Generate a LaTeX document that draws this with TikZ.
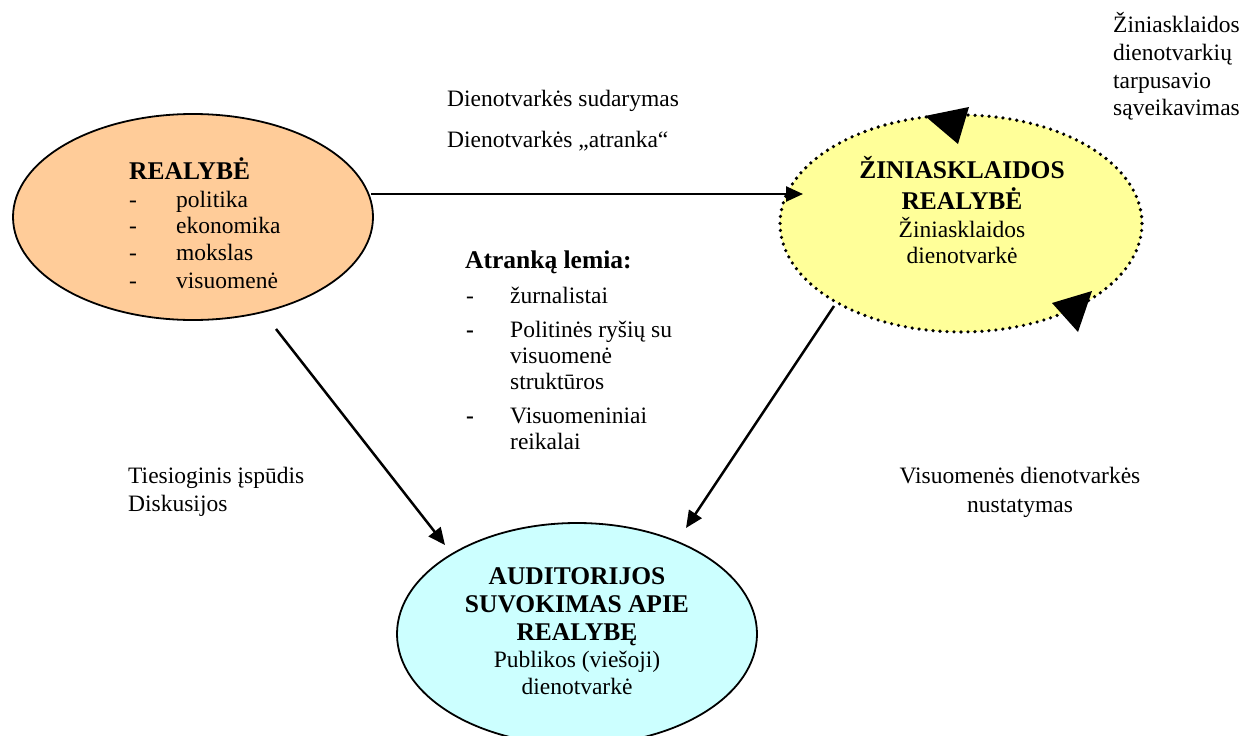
\documentclass[tikz,border=0pt]{standalone}
\usepackage{fontspec}
\setmainfont{Liberation Serif}
\usetikzlibrary{shapes.geometric,arrows.meta}
\definecolor{orangefill}{HTML}{FFCC99}
\definecolor{yellowfill}{HTML}{FFFF99}
\definecolor{cyanfill}{HTML}{CCFFFF}
\tikzset{
  oval/.style={ellipse, draw=black, line width=1.8pt, inner sep=0pt},
  txt/.style={inner sep=0pt, font=\fontsize{23.5}{27}\selectfont},
  btxt/.style={inner sep=0pt, font=\fontsize{25.5}{28}\selectfont\bfseries},
  arr/.style={line width=2.5pt, -{Triangle[length=17pt,width=15pt]}},
  dotline/.style={line width=3.6pt, line cap=round, dash pattern=on 0pt off 7pt},
}
\begin{document}
\begin{tikzpicture}[x=1pt,y=-1pt]
\useasboundingbox (0,0) rectangle (1245,736);

% ellipses
\node[oval, fill=orangefill, minimum width=360pt, minimum height=206pt] (real) at (193,217) {};
\node[ellipse, fill=yellowfill, minimum width=362pt, minimum height=217pt, inner sep=0pt] (media) at (961,223.5) {};
\draw[dotline] (media.center) ellipse [x radius=181, y radius=108.5];
\node[oval, fill=cyanfill, minimum width=360pt, minimum height=222pt] (aud) at (577,634) {};

% big arrowheads on the dotted ellipse
\fill[black] (925,116) -- (969,107) -- (958,144) -- cycle;
\fill[black] (1052,303) -- (1092,291) -- (1078,332) -- cycle;

% text in REALYBE
\node[btxt, anchor=base west] (r0) at (129,179) {REALYBĖ};
\node[txt, anchor=base west] (rd1) at (129,207) {-};
\node[txt, anchor=base west] (rd2) at (129,233) {-};
\node[txt, anchor=base west] (rd3) at (129,260) {-};
\node[txt, anchor=base west] (rd4) at (129,288) {-};
\node[txt, anchor=base west] (r1) at (176,207) {politika};
\node[txt, anchor=base west] (r2) at (176,233) {ekonomika};
\node[txt, anchor=base west] (r3) at (176,260) {mokslas};
\node[txt, anchor=base west] (r4) at (176,288) {visuomenė};

% text in media ellipse
\node[btxt, anchor=base] (m1) at (962,178) {ŽINIASKLAIDOS};
\node[btxt, anchor=base] (m2) at (962,209) {REALYBĖ};
\node[txt, anchor=base] (m3) at (962,237) {Žiniasklaidos};
\node[txt, anchor=base] (m4) at (962,263) {dienotvarkė};

% text in audience ellipse
\node[btxt, anchor=base] (a1) at (577,584) {AUDITORIJOS};
\node[btxt, anchor=base] (a2) at (577,612) {SUVOKIMAS APIE};
\node[btxt, anchor=base] (a3) at (577,640) {REALYBĘ};
\node[txt, anchor=base] (a4) at (577,667) {Publikos (viešoji)};
\node[txt, anchor=base] (a5) at (577,694) {dienotvarkė};

% top labels
\node[txt, anchor=base west] (t1) at (447,106) {Dienotvarkės sudarymas};
\node[txt, anchor=base west] (t2) at (447,147) {Dienotvarkės „atranka“};

% top right
\node[txt, anchor=base west] (s1) at (1113,32) {Žiniasklaidos};
\node[txt, anchor=base west] (s2) at (1113,60) {dienotvarkių};
\node[txt, anchor=base west] (s3) at (1113,88) {tarpusavio};
\node[txt, anchor=base west] (s4) at (1113,115) {sąveikavimas};

% Atranka lemia
\node[btxt, anchor=base west] (l0) at (465,268) {Atranką lemia:};
\node[txt, anchor=base west] (ld1) at (466,303) {-};
\node[txt, anchor=base west] (l1) at (510,303) {žurnalistai};
\node[txt, anchor=base west, font=\fontsize{23.5}{27}\selectfont\bfseries] (ld2) at (466,337) {-};
\node[txt, anchor=base west] (l2) at (510,337) {Politinės ryšių su};
\node[txt, anchor=base west] (l3) at (510,363) {visuomenė};
\node[txt, anchor=base west] (l4) at (510,389) {struktūros};
\node[txt, anchor=base west, font=\fontsize{23.5}{27}\selectfont\bfseries] (ld3) at (466,423) {-};
\node[txt, anchor=base west] (l5) at (510,423) {Visuomeniniai};
\node[txt, anchor=base west] (l6) at (510,449) {reikalai};

% left / right lower labels
\node[txt, anchor=base west] (d1) at (128,483) {Tiesioginis įspūdis};
\node[txt, anchor=base west] (d2) at (128,511) {Diskusijos};
\node[txt, anchor=base] (v1) at (1020,483) {Visuomenės dienotvarkės};
\node[txt, anchor=base] (v2) at (1020,512) {nustatymas};

% connectors
\coordinate (h1) at (371,194);
\coordinate (h2) at (803,194);
\coordinate (p1) at (276,329);
\coordinate (p2) at (445,545);
\coordinate (q1) at (834,306);
\coordinate (q2) at (686,528);
\draw[arr] (h1) -- (h2);
\draw[arr] (p1) -- (p2);
\draw[arr] (q1) -- (q2);
\end{tikzpicture}
\end{document}
